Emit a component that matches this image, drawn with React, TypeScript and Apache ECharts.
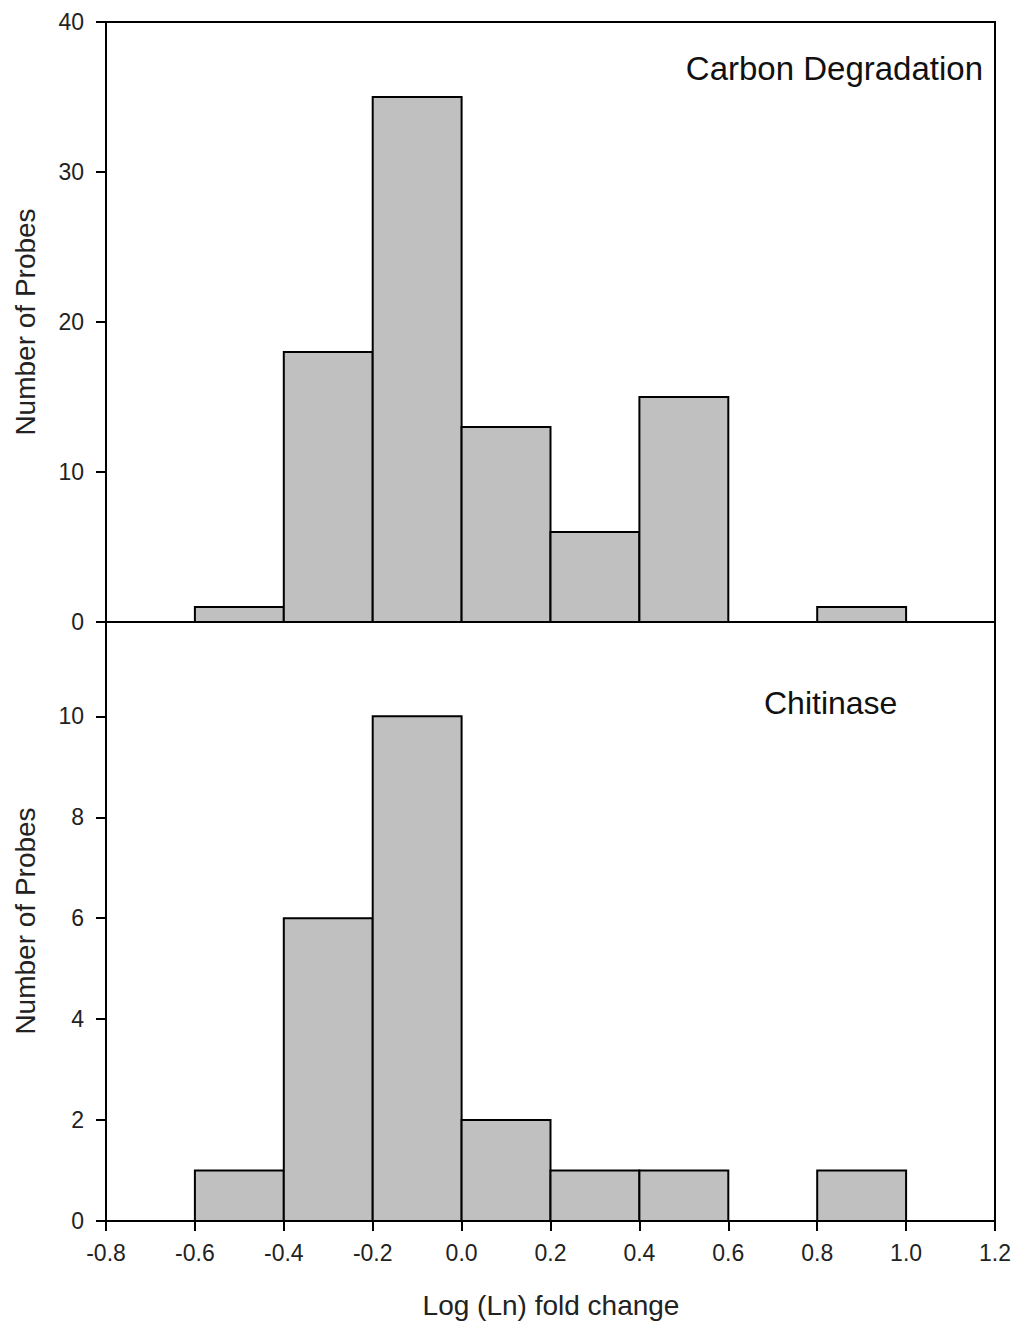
import React, { useEffect, useRef } from "react";
import * as echarts from "echarts";

// Histogram bins (left edges), width 0.2
const binStarts = [-0.6, -0.4, -0.2, 0.0, 0.2, 0.4, 0.6, 0.8];
const binWidth = 0.2;
const carbonCounts = [1, 18, 35, 13, 6, 15, 0, 1];
const chitinaseCounts = [1, 6, 10, 2, 1, 1, 0, 1];
const xTicks = [-0.8, -0.6, -0.4, -0.2, 0.0, 0.2, 0.4, 0.6, 0.8, 1.0, 1.2];
const topTitle = "Carbon Degradation";
const bottomTitle = "Chitinase";
const yTitle = "Number of Probes";
const xTitle = "Log (Ln) fold change";

const FONT = "Arial, 'Liberation Sans', sans-serif";

export default function App() {
  const ref = useRef<HTMLDivElement>(null);
  useEffect(() => {
    if (!ref.current) return;
    const chart = echarts.init(ref.current, null, { renderer: "svg" });

    const toData = (counts: number[]) =>
      binStarts.map((s, i) => [s, s + binWidth, counts[i]]);

    const renderItem = (params: any, api: any) => {
      const x0 = api.value(0);
      const x1 = api.value(1);
      const c = api.value(2);
      if (!c) return null;
      const p0 = api.coord([x0, 0]);
      const p1 = api.coord([x1, c]);
      return {
        type: "rect",
        shape: { x: p0[0], y: p1[1], width: p1[0] - p0[0], height: p0[1] - p1[1] },
        style: { fill: "#c0c0c0", stroke: "#000", lineWidth: 2 },
      };
    };

    const labelStyle = { color: "#222", fontFamily: FONT, fontSize: 23 };
    const xAxisCommon = {
      type: "value",
      min: -0.8,
      max: 1.2,
      interval: 0.2,
      splitLine: { show: false },
      axisLine: { show: true, onZero: false, lineStyle: { color: "#000", width: 2 } },
    };
    const yAxisCommon = {
      type: "value",
      min: 0,
      splitLine: { show: false },
      axisLine: { show: true, onZero: false, lineStyle: { color: "#000", width: 2 } },
      axisTick: { show: true, length: 10, lineStyle: { color: "#000", width: 2 } },
    };

    const option: any = {
      animation: false,
      backgroundColor: "#fff",
      grid: [
        { left: 106, right: 25, top: 22, height: 600, show: true, borderColor: "#000", borderWidth: 2, backgroundColor: "transparent" },
        { left: 106, right: 25, top: 622, height: 599, show: true, borderColor: "#000", borderWidth: 2, backgroundColor: "transparent" },
      ],
      xAxis: [
        {
          ...xAxisCommon,
          gridIndex: 0,
          axisTick: { show: false },
          axisLabel: { show: false },
        },
        {
          ...xAxisCommon,
          gridIndex: 1,
          axisTick: { show: true, length: 10, lineStyle: { color: "#000", width: 2 } },
          axisLabel: {
            ...labelStyle,
            margin: 20,
            formatter: (v: number) => {
              const t = xTicks.find((k) => Math.abs(k - v) < 1e-6);
              return t === undefined ? "" : t.toFixed(1);
            },
          },
        },
      ],
      yAxis: [
        {
          ...yAxisCommon,
          gridIndex: 0,
          max: 40,
          interval: 10,
          axisLabel: { ...labelStyle, margin: 22 },
        },
        {
          ...yAxisCommon,
          gridIndex: 1,
          max: 11.87,
          interval: 2,
          axisLabel: { ...labelStyle, margin: 22, showMaxLabel: false },
        },
      ],
      series: [
        {
          type: "custom",
          xAxisIndex: 0,
          yAxisIndex: 0,
          renderItem,
          data: toData(carbonCounts),
          encode: { x: [0, 1], y: 2 },
        },
        {
          type: "custom",
          xAxisIndex: 1,
          yAxisIndex: 1,
          renderItem,
          data: toData(chitinaseCounts),
          encode: { x: [0, 1], y: 2 },
        },
      ],
      graphic: [
        {
          type: "text",
          x: 983,
          y: 68,
          style: { text: topTitle, fontSize: 33, fontFamily: FONT, fill: "#111", textAlign: "right", textVerticalAlign: "middle" },
        },
        {
          type: "text",
          x: 764,
          y: 703,
          style: { text: bottomTitle, fontSize: 32, fontFamily: FONT, fill: "#111", textAlign: "left", textVerticalAlign: "middle" },
        },
        {
          type: "text",
          x: 25,
          y: 322,
          rotation: Math.PI / 2,
          style: { text: yTitle, fontSize: 28, fontFamily: FONT, fill: "#222", textAlign: "center", textVerticalAlign: "middle" },
        },
        {
          type: "text",
          x: 25,
          y: 921,
          rotation: Math.PI / 2,
          style: { text: yTitle, fontSize: 28, fontFamily: FONT, fill: "#222", textAlign: "center", textVerticalAlign: "middle" },
        },
        {
          type: "text",
          x: 551,
          y: 1305,
          style: { text: xTitle, fontSize: 28, fontFamily: FONT, fill: "#222", textAlign: "center", textVerticalAlign: "middle" },
        },
      ],
    };
    chart.setOption(option);
    return () => chart.dispose();
  }, []);

  return (
    <div
      ref={ref}
      style={{ width: 1020, height: 1326, position: "absolute", left: 0, top: 0, background: "#fff" }}
    />
  );
}
